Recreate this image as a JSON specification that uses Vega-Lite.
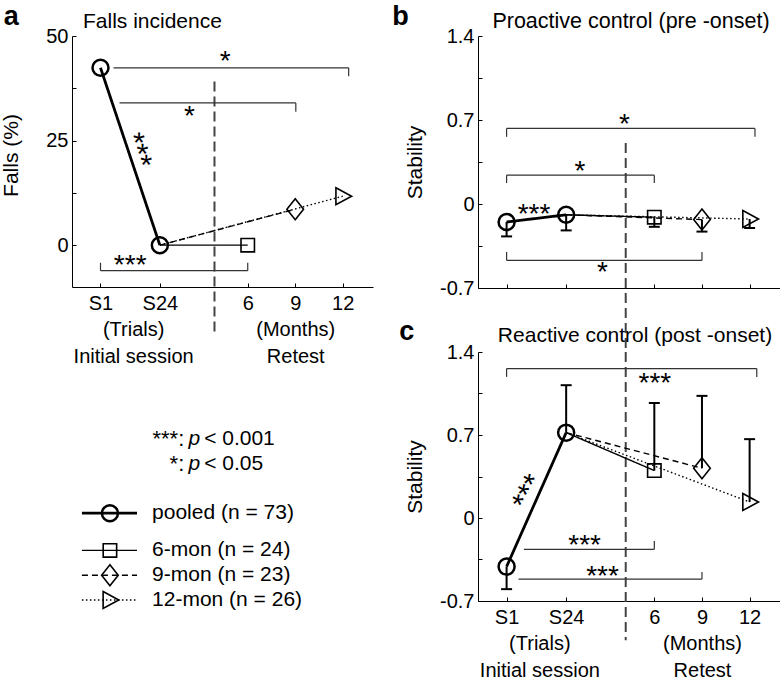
{
  "$schema": "https://vega.github.io/schema/vega-lite/v6.json",
  "background": "white",
  "padding": {"left": 0, "top": 3, "right": 0, "bottom": 0},
  "config": {
    "font": "Liberation Sans",
    "view": {"stroke": null},
    "axis": {
      "grid": false, "domainColor": "black", "domainWidth": 1, "tickColor": "black", "tickWidth": 1, "tickSize": -4,
      "labelFont": "Liberation Sans", "labelFontSize": 20, "labelColor": "black", "labelPadding": 8,
      "titleFont": "Liberation Sans", "titleFontSize": 21, "titleFontWeight": "normal", "titleColor": "black",
      "labelFlush": false, "labelOverlap": false, "labelBound": false
    },
    "title": {"font": "Liberation Sans", "fontSize": 21, "fontWeight": "normal", "color": "black", "baseline": "alphabetic", "frame": "group"},
    "text": {"color": "black"}
  },
  "datasets": {
    "series": [
      {"panel": "a", "group": "pooled", "t": 1, "y": 42.4},
      {"panel": "a", "group": "pooled", "t": 2, "y": 0},
      {"panel": "a", "group": "6-mon", "t": 2, "y": 0},
      {"panel": "a", "group": "6-mon", "t": 3.48, "y": 0},
      {"panel": "a", "group": "9-mon", "t": 2, "y": 0},
      {"panel": "a", "group": "9-mon", "t": 4.28, "y": 8.6},
      {"panel": "a", "group": "12-mon", "t": 2, "y": 0},
      {"panel": "a", "group": "12-mon", "t": 5.08, "y": 11.7},
      {"panel": "b", "group": "pooled", "t": 1, "y": -0.15, "bar": -0.27},
      {"panel": "b", "group": "pooled", "t": 2, "y": -0.09, "bar": -0.22},
      {"panel": "b", "group": "6-mon", "t": 2, "y": -0.09},
      {"panel": "b", "group": "6-mon", "t": 3.48, "y": -0.11, "bar": -0.19},
      {"panel": "b", "group": "9-mon", "t": 2, "y": -0.09},
      {"panel": "b", "group": "9-mon", "t": 4.28, "y": -0.13, "bar": -0.23},
      {"panel": "b", "group": "12-mon", "t": 2, "y": -0.09},
      {"panel": "b", "group": "12-mon", "t": 5.08, "y": -0.125, "bar": -0.2},
      {"panel": "c", "group": "pooled", "t": 1, "y": -0.41, "bar": -0.6},
      {"panel": "c", "group": "pooled", "t": 2, "y": 0.72, "bar": 1.12},
      {"panel": "c", "group": "6-mon", "t": 2, "y": 0.72},
      {"panel": "c", "group": "6-mon", "t": 3.48, "y": 0.4, "bar": 0.97},
      {"panel": "c", "group": "9-mon", "t": 2, "y": 0.72},
      {"panel": "c", "group": "9-mon", "t": 4.28, "y": 0.42, "bar": 1.03},
      {"panel": "c", "group": "12-mon", "t": 2, "y": 0.72},
      {"panel": "c", "group": "12-mon", "t": 5.08, "y": 0.135, "bar": 0.665}
    ],
    "brackets": [
      {"panel": "a", "t": 1.22, "t2": 5.18, "y": 42.4, "y2": 42.4},
      {"panel": "a", "t": 5.18, "t2": 5.18, "y": 42.4, "y2": 40.4},
      {"panel": "a", "t": 1.32, "t2": 4.29, "y": 34, "y2": 34},
      {"panel": "a", "t": 4.29, "t2": 4.29, "y": 34, "y2": 31.9},
      {"panel": "a", "t": 1, "t2": 3.48, "y": -6.1, "y2": -6.1},
      {"panel": "a", "t": 1, "t2": 1, "y": -6.1, "y2": -4.2},
      {"panel": "a", "t": 3.48, "t2": 3.48, "y": -6.1, "y2": -4.2},
      {"panel": "b", "t": 1, "t2": 5.17, "y": 0.63, "y2": 0.63},
      {"panel": "b", "t": 1, "t2": 1, "y": 0.63, "y2": 0.56},
      {"panel": "b", "t": 5.17, "t2": 5.17, "y": 0.63, "y2": 0.56},
      {"panel": "b", "t": 1, "t2": 3.48, "y": 0.24, "y2": 0.24},
      {"panel": "b", "t": 1, "t2": 1, "y": 0.24, "y2": 0.175},
      {"panel": "b", "t": 3.48, "t2": 3.48, "y": 0.24, "y2": 0.175},
      {"panel": "b", "t": 1, "t2": 4.28, "y": -0.47, "y2": -0.47},
      {"panel": "b", "t": 1, "t2": 1, "y": -0.47, "y2": -0.4},
      {"panel": "b", "t": 4.28, "t2": 4.28, "y": -0.47, "y2": -0.4},
      {"panel": "c", "t": 1, "t2": 5.2, "y": 1.26, "y2": 1.26},
      {"panel": "c", "t": 1, "t2": 1, "y": 1.26, "y2": 1.19},
      {"panel": "c", "t": 5.2, "t2": 5.2, "y": 1.26, "y2": 1.19},
      {"panel": "c", "t": 1.29, "t2": 3.48, "y": -0.264, "y2": -0.264},
      {"panel": "c", "t": 3.48, "t2": 3.48, "y": -0.264, "y2": -0.194},
      {"panel": "c", "t": 1.2, "t2": 4.28, "y": -0.515, "y2": -0.515},
      {"panel": "c", "t": 4.28, "t2": 4.28, "y": -0.515, "y2": -0.455}
    ],
    "stars": [
      {"panel": "a", "t": 3.1, "y": 45, "text": "*"},
      {"panel": "a", "t": 2.5, "y": 31.9, "text": "*"},
      {"panel": "a", "t": 1.5, "y": -3.9, "text": "***"},
      {"panel": "b", "t": 2.98, "y": 0.7, "text": "*"},
      {"panel": "b", "t": 2.23, "y": 0.31, "text": "*"},
      {"panel": "b", "t": 2.61, "y": -0.53, "text": "*"},
      {"panel": "b", "t": 1.46, "y": -0.05, "text": "***"},
      {"panel": "c", "t": 3.49, "y": 1.17, "text": "***"},
      {"panel": "c", "t": 2.31, "y": -0.19, "text": "***"},
      {"panel": "c", "t": 2.61, "y": -0.455, "text": "***"}
    ],
    "diag": [
      {"panel": "a", "t": 1.69, "y": 22.9, "text": "***"},
      {"panel": "c", "t": 1.3, "y": 0.236, "text": "***"}
    ],
    "legendRows": [
      {"key": "pooled", "group": "pooled", "label": "pooled (n = 73)"},
      {"key": "6-mon", "group": "6-mon", "label": "6-mon (n = 24)"},
      {"key": "9-mon", "group": "9-mon", "label": "9-mon (n = 23)"},
      {"key": "12-mon", "group": "12-mon", "label": "12-mon (n = 26)"}
    ],
    "pRows": [
      {"key": "p001", "lead": "***:", "thr": "< 0.001"},
      {"key": "p05", "lead": "*:", "thr": "< 0.05"}
    ]
  },
  "columns": 2,
  "spacing": {"row": 64, "column": 105},
  "bounds": "flush",
  "concat": [
    {
      "width": 301, "height": 251,
      "title": {"text": "Falls incidence", "anchor": "start", "dx": 11, "offset": 7, "dy": 36},
      "layer": [
        {"data": {"values": [{}]}, "mark": {"type": "rule", "color": "#444", "strokeWidth": 2, "strokeDash": [10, 5]},
         "encoding": {"x": {"datum": 2.92}, "y": {"datum": 39.1}, "y2": {"datum": -21}}},
        {"data": {"name": "brackets"}, "transform": [{"filter": "datum.panel == 'a'"}],
         "mark": {"type": "rule", "color": "#333", "strokeWidth": 1.2},
         "encoding": {"x": {"field": "t", "type": "quantitative"}, "x2": {"field": "t2"}, "y": {"field": "y", "type": "quantitative"}, "y2": {"field": "y2"}}},
        {"data": {"name": "series"}, "transform": [{"filter": "datum.panel == 'a'"}],
         "mark": {"type": "line", "color": "black"},
         "encoding": {
           "x": {"field": "t", "type": "quantitative", "scale": {"domain": [0.52, 5.59], "nice": false, "zero": false},
                 "axis": {"title": null, "values": [1, 1.55, 2, 3.48, 4.28, 5.08], "labelBaseline": "top", "labelLineHeight": 26.5, "labelPadding": 10,
                          "labelExpr": "datum.value == 1 ? 'S1' : datum.value == 2 ? 'S24' : datum.value == 3.48 ? '6' : datum.value == 4.28 ? ['9', '(Months)', 'Retest'] : datum.value == 5.08 ? '12' : ['\u00a0', '(Trials)', 'Initial session']",
                          "tickOpacity": {"condition": {"test": "datum.value == 1.55", "value": 0}, "value": 1}}},
           "y": {"field": "y", "type": "quantitative", "scale": {"domain": [-10, 50], "nice": false, "zero": false},
                 "axis": {"title": "Falls (%)", "values": [0, 12.5, 25, 37.5, 50], "titlePadding": 24, "titleY": 119,
                          "labelExpr": "datum.value == 0 ? '0' : datum.value == 25 ? '25' : datum.value == 50 ? '50' : ''"}},
           "detail": {"field": "group"},
           "strokeDash": {"field": "group", "type": "nominal", "scale": {"domain": ["pooled", "6-mon", "9-mon", "12-mon"], "range": [[1, 0], [1, 0], [6, 4], [1.5, 2.5]]}, "legend": null},
           "strokeWidth": {"condition": {"test": "datum.group == 'pooled'", "value": 2.8}, "value": 1.4}
         }},
        {"data": {"name": "series"}, "transform": [{"filter": "datum.panel == 'a' && (datum.group == 'pooled' || datum.t > 2)"}],
         "mark": {"type": "point", "filled": false, "color": "black", "size": 256, "opacity": 1},
         "encoding": {
           "x": {"field": "t", "type": "quantitative"}, "y": {"field": "y", "type": "quantitative"},
           "shape": {"field": "group", "type": "nominal", "scale": {"domain": ["pooled", "6-mon", "9-mon", "12-mon"], "range": ["circle", "M-0.84,-0.84H0.84V0.84H-0.84Z", "M0,-1.31L1.04,0L0,1.31L-1.04,0Z", "M-0.85,-1.06L1.11,0L-0.85,1.06Z"]}, "legend": null},
           "strokeWidth": {"condition": {"test": "datum.group == 'pooled'", "value": 2.5}, "value": 1.6}
         }},
        {"data": {"name": "stars"}, "transform": [{"filter": "datum.panel == 'a'"}],
         "mark": {"type": "text", "fontSize": 28, "baseline": "middle", "align": "center", "dy": 5},
         "encoding": {"x": {"field": "t", "type": "quantitative"}, "y": {"field": "y", "type": "quantitative"}, "text": {"field": "text"}}},
        {"data": {"name": "diag"}, "transform": [{"filter": "datum.panel == 'a'"}],
         "mark": {"type": "text", "fontSize": 30, "baseline": "middle", "align": "center", "dy": 5, "angle": 72},
         "encoding": {"x": {"field": "t", "type": "quantitative"}, "y": {"field": "y", "type": "quantitative"}, "text": {"field": "text"}}},
        {"data": {"values": [{"letter": "a"}]},
         "mark": {"type": "text", "fontSize": 27, "fontWeight": "bold", "align": "left", "baseline": "alphabetic"},
         "encoding": {"x": {"datum": -0.63}, "y": {"datum": 52.6}, "text": {"field": "letter"}}}
      ]
    },
    {
      "width": 302, "height": 252,
      "title": {"text": "Proactive control (pre -onset)", "anchor": "middle", "dx": 2, "offset": 7, "dy": 36, "fontSize": 21.5},
      "layer": [
        {"data": {"values": [{}]}, "mark": {"type": "rule", "color": "#444", "strokeWidth": 2, "strokeDash": [10, 5]},
         "encoding": {"x": {"datum": 3.0}, "y": {"datum": 0.508}, "y2": {"datum": -1.23}}},
        {"data": {"name": "brackets"}, "transform": [{"filter": "datum.panel == 'b'"}],
         "mark": {"type": "rule", "color": "#333", "strokeWidth": 1.2},
         "encoding": {"x": {"field": "t", "type": "quantitative"}, "x2": {"field": "t2"}, "y": {"field": "y", "type": "quantitative"}, "y2": {"field": "y2"}}},
        {"data": {"name": "series"}, "transform": [{"filter": "datum.panel == 'b'"}],
         "mark": {"type": "line", "color": "black"},
         "encoding": {
           "x": {"field": "t", "type": "quantitative", "scale": {"domain": [0.52, 5.59], "nice": false, "zero": false},
                 "axis": {"title": null, "values": [1, 2, 3.48, 4.28, 5.08], "labels": false}},
           "y": {"field": "y", "type": "quantitative", "scale": {"domain": [-0.7, 1.4], "nice": false, "zero": false},
                 "axis": {"title": "Stability", "values": [-0.7, -0.35, 0, 0.35, 0.7, 1.05, 1.4], "titlePadding": 14,
                          "labelExpr": "datum.value == 1.4 ? '1.4' : datum.value == 0.7 ? '0.7' : datum.value == 0 ? '0' : datum.value == -0.7 ? '-0.7' : ''"}},
           "detail": {"field": "group"},
           "strokeDash": {"field": "group", "type": "nominal", "scale": {"domain": ["pooled", "6-mon", "9-mon", "12-mon"], "range": [[1, 0], [1, 0], [6, 4], [1.5, 2.5]]}, "legend": null},
           "strokeWidth": {"condition": {"test": "datum.group == 'pooled'", "value": 2.8}, "value": 1.4}
         }},
        {"data": {"name": "series"}, "transform": [{"filter": "datum.panel == 'b' && isValid(datum.bar)"}],
         "mark": {"type": "rule", "color": "black", "strokeWidth": 2},
         "encoding": {"x": {"field": "t", "type": "quantitative"}, "y": {"field": "y", "type": "quantitative"}, "y2": {"field": "bar"}}},
        {"data": {"name": "series"}, "transform": [{"filter": "datum.panel == 'b' && isValid(datum.bar)"}],
         "mark": {"type": "tick", "orient": "horizontal", "color": "black", "size": 11, "thickness": 2, "opacity": 1},
         "encoding": {"x": {"field": "t", "type": "quantitative"}, "y": {"field": "bar", "type": "quantitative"}}},
        {"data": {"name": "series"}, "transform": [{"filter": "datum.panel == 'b' && (datum.group == 'pooled' || datum.t > 2)"}],
         "mark": {"type": "point", "filled": false, "color": "black", "size": 256, "opacity": 1},
         "encoding": {
           "x": {"field": "t", "type": "quantitative"}, "y": {"field": "y", "type": "quantitative"},
           "shape": {"field": "group", "type": "nominal", "scale": {"domain": ["pooled", "6-mon", "9-mon", "12-mon"], "range": ["circle", "M-0.84,-0.84H0.84V0.84H-0.84Z", "M0,-1.31L1.04,0L0,1.31L-1.04,0Z", "M-0.85,-1.06L1.11,0L-0.85,1.06Z"]}, "legend": null},
           "strokeWidth": {"condition": {"test": "datum.group == 'pooled'", "value": 2.5}, "value": 1.6}
         }},
        {"data": {"name": "stars"}, "transform": [{"filter": "datum.panel == 'b'"}],
         "mark": {"type": "text", "fontSize": 28, "baseline": "middle", "align": "center", "dy": 5},
         "encoding": {"x": {"field": "t", "type": "quantitative"}, "y": {"field": "y", "type": "quantitative"}, "text": {"field": "text"}}},
        {"data": {"values": [{"letter": "b"}]},
         "mark": {"type": "text", "fontSize": 27, "fontWeight": "bold", "align": "left", "baseline": "alphabetic"},
         "encoding": {"x": {"datum": -0.92}, "y": {"datum": 1.49}, "text": {"field": "letter"}}}
      ]
    },
    {
      "width": 301, "height": 248,
      "layer": [
        {"data": {"name": "legendRows"}, "mark": {"type": "rule", "color": "black"},
         "encoding": {
           "x": {"datum": 0.33, "scale": {"domain": [0, 10], "nice": false, "zero": false}, "axis": null},
           "x2": {"datum": 2.16},
           "y": {"field": "key", "type": "nominal", "axis": null,
                 "scale": {"type": "point", "padding": 0, "domain": ["_a", "_b", "_c", "_d", "_e", "_f", "_g", "p001", "_1", "p05", "_3", "_4", "_5", "pooled", "_7", "_8", "6-mon", "_10", "9-mon", "_12", "12-mon"]}},
           "strokeDash": {"field": "group", "type": "nominal", "scale": {"domain": ["pooled", "6-mon", "9-mon", "12-mon"], "range": [[1, 0], [1, 0], [6, 4], [1.5, 2.5]]}, "legend": null},
           "strokeWidth": {"condition": {"test": "datum.group == 'pooled'", "value": 2.8}, "value": 1.4}
         }},
        {"data": {"name": "legendRows"}, "mark": {"type": "point", "filled": false, "color": "black", "size": 256, "opacity": 1},
         "encoding": {
           "x": {"datum": 1.26, "axis": null}, "y": {"field": "key", "type": "nominal", "axis": null},
           "shape": {"field": "group", "type": "nominal", "scale": {"domain": ["pooled", "6-mon", "9-mon", "12-mon"], "range": ["circle", "M-0.84,-0.84H0.84V0.84H-0.84Z", "M0,-1.31L1.04,0L0,1.31L-1.04,0Z", "M-0.85,-1.06L1.11,0L-0.85,1.06Z"]}, "legend": null},
           "strokeWidth": {"condition": {"test": "datum.group == 'pooled'", "value": 2.5}, "value": 1.6}
         }},
        {"data": {"name": "legendRows"}, "mark": {"type": "text", "align": "left", "baseline": "middle", "fontSize": 21},
         "encoding": {"x": {"datum": 2.66, "axis": null}, "y": {"field": "key", "type": "nominal", "axis": null}, "text": {"field": "label"}}},
        {"data": {"name": "pRows"}, "mark": {"type": "text", "align": "right", "baseline": "middle", "fontSize": 22},
         "encoding": {"x": {"datum": 3.73, "axis": null}, "y": {"field": "key", "type": "nominal", "axis": null}, "text": {"field": "lead"}}},
        {"data": {"name": "pRows"}, "mark": {"type": "text", "align": "left", "baseline": "middle", "fontSize": 21, "fontStyle": "italic"},
         "encoding": {"x": {"datum": 3.87, "axis": null}, "y": {"field": "key", "type": "nominal", "axis": null}, "text": {"value": "p"}}},
        {"data": {"name": "pRows"}, "mark": {"type": "text", "align": "left", "baseline": "middle", "fontSize": 21},
         "encoding": {"x": {"datum": 4.39, "axis": null}, "y": {"field": "key", "type": "nominal", "axis": null}, "text": {"field": "thr"}}}
      ]
    },
    {
      "width": 302, "height": 249,
      "title": {"text": "Reactive control (post -onset)", "anchor": "middle", "dx": 6, "offset": 10, "dy": 38},
      "layer": [
        {"data": {"values": [{}]}, "mark": {"type": "rule", "color": "#444", "strokeWidth": 2, "strokeDash": [10, 5]},
         "encoding": {"x": {"datum": 3.0}, "y": {"datum": 1.4}, "y2": {"datum": -1.03}}},
        {"data": {"name": "brackets"}, "transform": [{"filter": "datum.panel == 'c'"}],
         "mark": {"type": "rule", "color": "#333", "strokeWidth": 1.2},
         "encoding": {"x": {"field": "t", "type": "quantitative"}, "x2": {"field": "t2"}, "y": {"field": "y", "type": "quantitative"}, "y2": {"field": "y2"}}},
        {"data": {"name": "series"}, "transform": [{"filter": "datum.panel == 'c'"}],
         "mark": {"type": "line", "color": "black"},
         "encoding": {
           "x": {"field": "t", "type": "quantitative", "scale": {"domain": [0.52, 5.59], "nice": false, "zero": false},
                 "axis": {"title": null, "values": [1, 1.55, 2, 3.48, 4.28, 5.08], "labelBaseline": "top", "labelLineHeight": 26.5, "labelPadding": 10,
                          "labelExpr": "datum.value == 1 ? 'S1' : datum.value == 2 ? 'S24' : datum.value == 3.48 ? '6' : datum.value == 4.28 ? ['9', '(Months)', 'Retest'] : datum.value == 5.08 ? '12' : ['\u00a0', '(Trials)', 'Initial session']",
                          "tickOpacity": {"condition": {"test": "datum.value == 1.55", "value": 0}, "value": 1}}},
           "y": {"field": "y", "type": "quantitative", "scale": {"domain": [-0.7, 1.4], "nice": false, "zero": false},
                 "axis": {"title": "Stability", "values": [-0.7, -0.35, 0, 0.35, 0.7, 1.05, 1.4], "titlePadding": 14,
                          "labelExpr": "datum.value == 1.4 ? '1.4' : datum.value == 0.7 ? '0.7' : datum.value == 0 ? '0' : datum.value == -0.7 ? '-0.7' : ''"}},
           "detail": {"field": "group"},
           "strokeDash": {"field": "group", "type": "nominal", "scale": {"domain": ["pooled", "6-mon", "9-mon", "12-mon"], "range": [[1, 0], [1, 0], [6, 4], [1.5, 2.5]]}, "legend": null},
           "strokeWidth": {"condition": {"test": "datum.group == 'pooled'", "value": 2.8}, "value": 1.4}
         }},
        {"data": {"name": "series"}, "transform": [{"filter": "datum.panel == 'c' && isValid(datum.bar)"}],
         "mark": {"type": "rule", "color": "black", "strokeWidth": 2},
         "encoding": {"x": {"field": "t", "type": "quantitative"}, "y": {"field": "y", "type": "quantitative"}, "y2": {"field": "bar"}}},
        {"data": {"name": "series"}, "transform": [{"filter": "datum.panel == 'c' && isValid(datum.bar)"}],
         "mark": {"type": "tick", "orient": "horizontal", "color": "black", "size": 11, "thickness": 2, "opacity": 1},
         "encoding": {"x": {"field": "t", "type": "quantitative"}, "y": {"field": "bar", "type": "quantitative"}}},
        {"data": {"name": "series"}, "transform": [{"filter": "datum.panel == 'c' && (datum.group == 'pooled' || datum.t > 2)"}],
         "mark": {"type": "point", "filled": false, "color": "black", "size": 256, "opacity": 1},
         "encoding": {
           "x": {"field": "t", "type": "quantitative"}, "y": {"field": "y", "type": "quantitative"},
           "shape": {"field": "group", "type": "nominal", "scale": {"domain": ["pooled", "6-mon", "9-mon", "12-mon"], "range": ["circle", "M-0.84,-0.84H0.84V0.84H-0.84Z", "M0,-1.31L1.04,0L0,1.31L-1.04,0Z", "M-0.85,-1.06L1.11,0L-0.85,1.06Z"]}, "legend": null},
           "strokeWidth": {"condition": {"test": "datum.group == 'pooled'", "value": 2.5}, "value": 1.6}
         }},
        {"data": {"name": "stars"}, "transform": [{"filter": "datum.panel == 'c'"}],
         "mark": {"type": "text", "fontSize": 28, "baseline": "middle", "align": "center", "dy": 5},
         "encoding": {"x": {"field": "t", "type": "quantitative"}, "y": {"field": "y", "type": "quantitative"}, "text": {"field": "text"}}},
        {"data": {"name": "diag"}, "transform": [{"filter": "datum.panel == 'c'"}],
         "mark": {"type": "text", "fontSize": 30, "baseline": "middle", "align": "center", "dy": 5, "angle": -62},
         "encoding": {"x": {"field": "t", "type": "quantitative"}, "y": {"field": "y", "type": "quantitative"}, "text": {"field": "text"}}},
        {"data": {"values": [{"letter": "c"}]},
         "mark": {"type": "text", "fontSize": 27, "fontWeight": "bold", "align": "left", "baseline": "alphabetic"},
         "encoding": {"x": {"datum": -0.8}, "y": {"datum": 1.5}, "text": {"field": "letter"}}}
      ]
    }
  ]
}
